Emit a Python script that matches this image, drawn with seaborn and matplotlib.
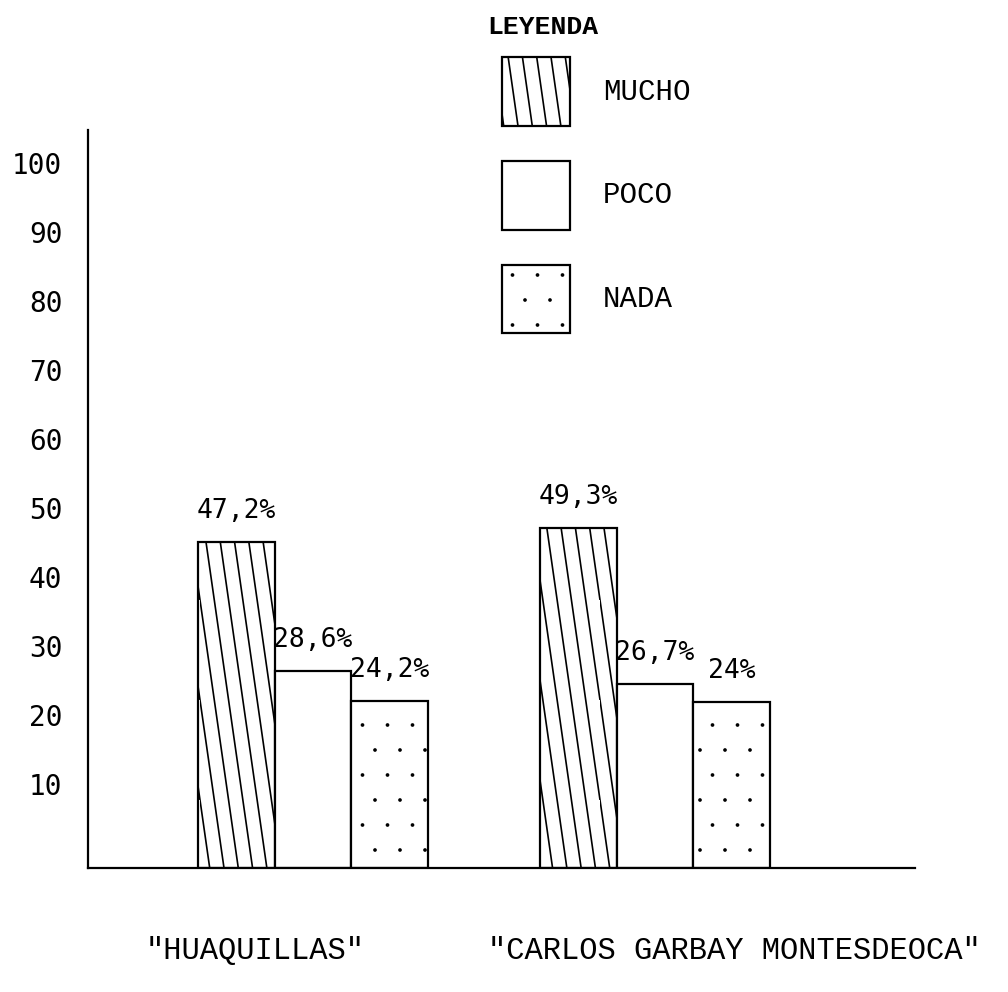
import numpy as np
import pandas as pd
import matplotlib
matplotlib.use("Agg")
import matplotlib.pyplot as plt
import matplotlib.hatch as mhatch
from matplotlib.path import Path
from matplotlib.patches import Patch
from matplotlib.transforms import ScaledTranslation
import seaborn as sns

# ---------------- data ----------------
escuelas = ['"HUAQUILLAS"', '"CARLOS GARBAY MONTESDEOCA"']
niveles = ["MUCHO", "POCO", "NADA"]
mucho = [47.2, 49.3]
poco = [28.6, 26.7]
nada = [24.2, 24.0]
yticks = [10, 20, 30, 40, 50, 60, 70, 80, 90, 100]
leyenda_titulo = "LEYENDA"


# ------------- steep diagonal hatch (typewriter style) -------------
class SteepHatch(mhatch.HatchPatternBase):
    def __init__(self, hatch, density):
        n = 7
        shift = 1
        segs = []
        if "|" in hatch:
            for i in range(-shift, n):
                segs.append((i / n, 1.0))
                segs.append(((i + shift) / n, 0.0))
        self.verts = np.array(segs, dtype=float).reshape(-1, 2)
        self.num_vertices = len(segs)

    def set_vertices_and_codes(self, vertices, codes):
        vertices[:] = self.verts
        codes[0::2] = Path.MOVETO
        codes[1::2] = Path.LINETO


# ------------- sparse small dots -------------
class SparseDots(mhatch.SmallFilledCircles):
    size = 0.04

    def __init__(self, hatch, density):
        self.num_rows = hatch.count(".") * 4
        mhatch.Circles.__init__(self, hatch, density)


_new_types = []
for t in mhatch._hatch_types:
    if t is mhatch.VerticalHatch:
        _new_types.append(SteepHatch)
    elif t is mhatch.SmallFilledCircles:
        _new_types.append(SparseDots)
    else:
        _new_types.append(t)
mhatch._hatch_types = _new_types

sns.set_style("white")
plt.rcParams["font.family"] = ["DejaVu Sans Mono", "DejaVu Sans"]
plt.rcParams["hatch.linewidth"] = 1.2
plt.rcParams["hatch.color"] = "black"
plt.rcParams["text.color"] = "black"
plt.rcParams["xtick.color"] = "black"
plt.rcParams["ytick.color"] = "black"
plt.rcParams["axes.labelcolor"] = "black"

df = pd.DataFrame({
    "escuela": np.repeat(escuelas, len(niveles)),
    "nivel": niveles * len(escuelas),
    "pct": [v for trio in zip(mucho, poco, nada) for v in trio],
})

fig = plt.figure(figsize=(10.08, 9.92), dpi=100, facecolor="white")
ax = fig.add_axes([88 / 1008, 1 - 868 / 992, (915 - 88) / 1008, (868 - 130) / 992])

sns.barplot(data=df, x="escuela", y="pct", hue="nivel", hue_order=niveles,
            order=escuelas, palette=["white"] * 3, edgecolor="black",
            linewidth=1.6, width=0.67, saturation=1, errorbar=None,
            legend=False, ax=ax)

hatches = ["|", "", "."]
for cont, h in zip(ax.containers, hatches):
    for bar in cont:
        bar.set_hatch(h)
        bar.set_facecolor("white")
        bar.set_edgecolor("black")

for cont in ax.containers:
    labels = [f"{b.get_height():g}".replace(".", ",") + "%" for b in cont]
    txts = ax.bar_label(cont, labels=labels, padding=13, fontsize=19,
                        family="DejaVu Sans Mono", color="black")
    for t in txts:
        t.set_transform(t.get_transform() + ScaledTranslation(0.08, 0, fig.dpi_scale_trans))

ax.set_xlim(-0.658, 1.76)
ax.set_ylim(0, 107)
ax.set_yticks(yticks)
ax.set_yticklabels([str(t) for t in yticks], fontsize=20, family="DejaVu Sans Mono")
ax.tick_params(axis="y", length=0, pad=18.5)
ax.tick_params(axis="x", length=0, pad=49)
ax.set_xlabel("")
ax.set_ylabel("")

for lab in ax.get_yticklabels():
    lab.set_transform(lab.get_transform() + ScaledTranslation(0, 0.15, fig.dpi_scale_trans))

ax.set_xticks([0, 1])
ax.set_xticklabels(escuelas, fontsize=22, family="Liberation Mono", ha="left")
for lab in ax.get_xticklabels():
    lab.set_transform(lab.get_transform() + ScaledTranslation(-1.67, 0, fig.dpi_scale_trans))

sns.despine(ax=ax, top=True, right=True)
for side in ["left", "bottom"]:
    ax.spines[side].set_linewidth(1.6)
    ax.spines[side].set_color("black")

fig.text(487 / 1008, 1 - 27 / 992, leyenda_titulo, ha="left", va="center",
         family="Liberation Mono", fontsize=19, fontweight="bold", color="black")

handles = [Patch(facecolor="white", edgecolor="black", hatch=h, linewidth=1.6)
           for h in hatches]
leg = fig.legend(handles, niveles, loc="upper left",
                 bbox_to_anchor=(502 / 1008, 1 - 57 / 992),
                 frameon=False,
                 prop={"family": "Liberation Mono", "size": 21},
                 handlelength=2.33, handleheight=3.25, labelspacing=1.2,
                 handletextpad=1.13, borderpad=0, borderaxespad=0)
for t in leg.get_texts():
    t.set_color("black")

fig.savefig("out.png", dpi=100, facecolor="white")
